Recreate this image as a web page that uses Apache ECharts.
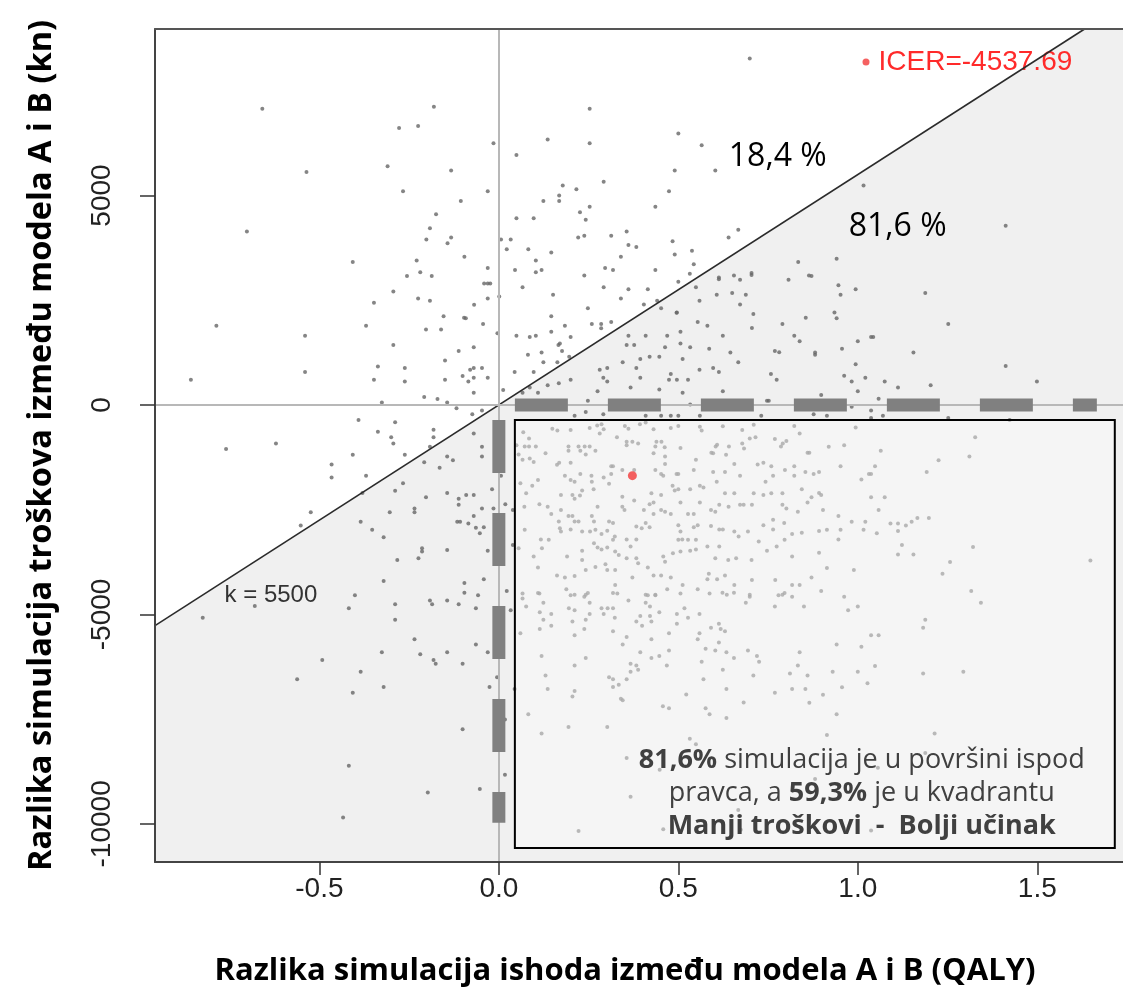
<!DOCTYPE html>
<html><head><meta charset="utf-8">
<script src="https://cdn.jsdelivr.net/npm/echarts@6/dist/echarts.min.js"></script>
<style>html,body{margin:0;padding:0;background:#fff;overflow:hidden}#main{width:1123px;height:990px}</style>
</head><body><div id="main"></div>
<script>
// ---- axes / labels ----
const xTicks = [-0.5, 0, 0.5, 1.0, 1.5];
const yTicks = [-10000, -5000, 0, 5000];
const xRange = [-0.958, 1.75];
const yRange = [-10910, 8975];
const xTitle = 'Razlika simulacija ishoda između modela A i B (QALY)';
const yTitle = 'Razlika simulacija troškova između modela A i B (kn)';
const wtpK = 5500;
const icerLabel = 'ICER=-4537.69';
const meanPoint = [0.372, -1688];
const shareAbove = '18,4 %';
const shareBelow = '81,6 %';
const boxText = '{b|81,6%} simulacija je u površini ispod\npravca, a {b|59,3%} je u kvadrantu\n{b|Manji troškovi  -  Bolji učinak}';
const hDashEnds = [0.0446, 1.666];
const vDashEnds = [-358, -9976];
const quadrantBox = [0.0446, -358, 1.716, -10573];

// ---- simulated (incremental QALY, incremental cost) pairs ----
const simTopLeft = [[-0.659,7070],[-0.536,5560],[-0.702,4140],[-0.181,7120],[-0.278,6610],[-0.225,6660],[-0.310,5700],[-0.133,5600],[-0.267,5100],[-0.106,4870],[-0.175,4550],[-0.192,4220],[-0.202,3950],[-0.133,4000],[-0.143,3860],[-0.096,3540],[-0.407,3410],[-0.229,3450],[-0.219,3170],[-0.256,3080],[-0.187,3080],[-0.294,2710],[-0.348,2440],[-0.225,2540],[-0.192,2490],[-0.069,2390],[-0.154,2120],[-0.097,2080],[-0.092,2070],[-0.041,2900]];
const simTopMid = [[0.699,8270],[0.253,7070],[0.500,6480],[0.565,6200],[-0.015,6250],[0.136,6340],[0.253,6250],[0.049,5970],[0.603,5600],[0.490,5600],[-0.031,5100],[0.292,5330],[0.474,5100],[0.178,5240],[0.168,5000],[0.168,4870],[0.216,5150],[0.124,4870],[0.253,4730],[0.436,4730],[0.226,4600],[0.242,4420],[0.049,4460],[0.097,4460],[0.006,3950],[0.033,3950],[0.022,3720],[0.082,3720],[0.221,4000],[0.238,4040],[0.146,3640],[0.103,3450],[0.103,3170],[0.119,3220],[0.045,3220],[-0.031,3270],[-0.031,2900],[-0.024,2900],[-0.031,2540],[0.001,2590],[0.066,2810],[0.151,2630],[0.146,2120],[0.238,3090],[0.248,2310],[0.292,2810],[0.296,3270],[0.318,3220],[0.313,4040],[0.356,4140],[0.361,3820],[0.383,3770],[0.340,3540],[0.361,2760],[0.340,2540],[0.415,2760],[0.436,3220],[0.404,2400],[0.441,2490],[0.452,2310],[0.484,3910],[0.490,3590],[0.538,3680],[0.543,3360],[0.532,3130],[0.500,2940],[0.549,2810],[0.496,2210],[0.559,2490],[0.640,4000],[0.667,4180],[0.613,3040],[0.613,3000],[0.655,3090],[0.672,2990],[0.704,3100],[0.704,3150],[0.607,2630],[0.650,2670],[0.688,2630],[0.672,2400],[0.709,2170],[0.807,2990],[0.834,3410],[0.864,3090]];
const simTopRight = [[1.016,5240],[1.412,4280],[0.941,3490],[0.871,3080],[0.946,2860],[0.952,2630],[0.994,2760],[1.188,2670],[0.935,2210],[0.941,2070],[0.855,2080]];
const simMidLeft = [[-0.787,1890],[-0.540,1650],[-0.858,600],[-0.540,790],[-0.370,1890],[-0.294,1430],[-0.337,920],[-0.348,600],[-0.262,880],[-0.262,560],[-0.203,1800],[-0.161,1800],[-0.044,1930],[-0.112,1290],[-0.070,1380],[-0.150,1060],[-0.080,840],[-0.070,880],[-0.047,880],[-0.101,690],[-0.085,560],[-0.070,650],[-0.150,600],[-0.070,290],[-0.208,190],[-0.171,140],[-0.144,60],[-0.326,60],[-0.118,-80],[-0.074,-220],[-0.047,-130],[-0.391,-360],[-0.289,-410],[-0.337,-640],[-0.300,-770],[-0.294,-920],[-0.182,-590],[-0.182,-770],[-0.192,-1000],[-0.760,-1050],[-0.621,-920],[-0.407,-1190],[-0.262,-1190],[-0.466,-1420],[-0.466,-1730],[-0.370,-1690],[-0.208,-1370],[-0.165,-1500],[-0.144,-1230],[-0.128,-1320],[-0.070,-680],[-0.047,-1000],[-0.047,-1230],[-0.380,-2100],[-0.267,-1870],[-0.289,-2050],[-0.524,-2560],[-0.552,-2880],[-0.385,-2790],[-0.353,-2980],[-0.321,-3160],[-0.304,-2560],[-0.235,-2470],[-0.235,-2560],[-0.203,-2200],[-0.144,-2100],[-0.112,-2240],[-0.112,-2380],[-0.091,-2150],[-0.070,-2150],[-0.047,-2470],[-0.070,-2650],[-0.116,-2790],[-0.108,-2790],[-0.085,-2830],[-0.064,-2930],[-0.053,-3060],[-0.214,-3420],[-0.214,-3500],[-0.224,-3660],[-0.144,-3460],[-0.283,-3700],[-0.321,-4200],[-0.401,-4540],[-0.096,-4250],[-0.096,-4480],[-0.058,-4540]];
const simCentre = [[-0.031,650],[-0.042,-2920],[-0.031,-3480],[-0.042,-4160],[-0.019,-2010],[0.012,360],[-0.004,1710],[0.049,1650],[0.086,1620],[0.103,1650],[0.146,1750],[0.184,1890],[0.200,1620],[0.259,1930],[0.285,1930],[0.285,1830],[0.313,1980],[0.495,2200],[0.554,1980],[0.581,1890],[0.624,1650],[0.705,1840],[0.790,1930],[0.823,1650],[0.361,1650],[0.409,1650],[0.469,1650],[0.506,1750],[0.356,1430],[0.377,1430],[0.463,1380],[0.506,1470],[0.533,1380],[0.586,1340],[0.645,1250],[0.769,1290],[0.781,1260],[0.166,1430],[0.176,1290],[0.081,1200],[0.119,1250],[0.124,1020],[0.163,1020],[0.044,790],[0.097,790],[0.196,1150],[0.200,600],[0.167,520],[0.136,470],[0.086,420],[0.109,290],[0.066,290],[0.345,1020],[0.394,1100],[0.420,1150],[0.447,1150],[0.512,1100],[0.667,1020],[0.281,840],[0.302,880],[0.291,650],[0.302,560],[0.383,880],[0.394,650],[0.479,740],[0.474,600],[0.496,600],[0.527,600],[0.559,840],[0.597,880],[0.613,790],[0.758,740],[0.774,600],[0.275,330],[0.367,420],[0.447,370],[0.512,290],[0.624,330],[0.747,100],[0.752,100],[0.248,100],[0.334,60],[0.533,10],[0.170,1470],[0.018,-2370],[0.006,-1690],[-0.015,-2470],[0.039,-2510],[0.039,-3340],[0.211,-260],[0.242,-170],[0.291,-220],[0.409,-260],[0.452,-260],[0.479,-260],[0.500,-260],[0.560,-260],[0.731,-260]];
const simCentreBox = [[0.068,-650],[0.084,-800],[0.149,-570],[0.163,-610],[0.200,-600],[0.253,-550],[0.274,-490],[0.286,-460],[0.292,-580],[0.281,-680],[0.329,-770],[0.351,-500],[0.361,-570],[0.393,-460],[0.409,-420],[0.431,-580],[0.479,-550],[0.500,-500],[0.560,-520],[0.565,-610],[0.624,-510],[0.678,-600],[0.710,-470],[0.715,-770],[0.769,-810],[0.823,-500],[0.838,-680],[0.356,-880],[0.372,-880],[0.388,-920],[0.356,-960],[0.439,-880],[0.453,-880],[0.462,-1010],[0.506,-1030],[0.592,-1140],[0.604,-990],[0.608,-950],[0.641,-990],[0.678,-920],[0.683,-1040],[0.699,-800],[0.791,-920],[0.801,-860],[0.786,-990],[0.860,-1140],[0.049,-960],[0.072,-990],[0.084,-990],[0.103,-990],[0.055,-1180],[0.066,-1310],[0.086,-1280],[0.097,-1360],[0.130,-1150],[0.162,-1430],[0.168,-1380],[0.194,-990],[0.194,-1090],[0.200,-1380],[0.222,-990],[0.227,-1090],[0.239,-990],[0.253,-990],[0.242,-1180],[0.269,-1090],[0.313,-1460],[0.436,-990],[0.431,-1150],[0.463,-1230],[0.463,-1410],[0.500,-1650],[0.549,-1310],[0.597,-1150],[0.633,-1190],[0.656,-1410],[0.721,-1420],[0.737,-1380],[0.759,-1460],[0.797,-1550],[0.823,-1460],[0.060,-1870],[0.093,-1930],[0.109,-1790],[0.184,-1690],[0.200,-1790],[0.211,-1830],[0.227,-1650],[0.258,-1690],[0.259,-1830],[0.292,-1730],[0.313,-1650],[0.318,-1460],[0.344,-1550],[0.377,-1550],[0.436,-1550],[0.452,-1650],[0.458,-1690],[0.495,-1650],[0.543,-1550],[0.597,-1600],[0.607,-1830],[0.630,-1600],[0.672,-1690],[0.743,-1830],[0.764,-1690],[0.823,-1690],[0.854,-1600],[0.484,-1930],[0.490,-2040],[0.500,-2010],[0.533,-2010],[0.560,-1930],[0.570,-1970],[0.630,-2110],[0.656,-2110],[0.710,-2110],[0.682,-2380],[0.737,-2150],[0.759,-2110],[0.790,-2110],[0.844,-2010],[0.076,-2110],[0.113,-2370],[0.136,-2430],[0.173,-2150],[0.205,-2150],[0.232,-2040],[0.226,-2160],[0.211,-2240],[0.264,-2010],[0.307,-1880],[0.344,-2190],[0.377,-2280],[0.425,-2110],[0.431,-2330],[0.452,-2150],[0.071,-2430],[0.146,-2600],[0.173,-2510],[0.194,-2650],[0.205,-2650],[0.211,-2780],[0.167,-2780],[0.170,-2940],[0.222,-2780],[0.259,-2650],[0.265,-2780],[0.269,-2980],[0.275,-2430],[0.307,-2780],[0.318,-2820],[0.350,-2510],[0.344,-2430],[0.404,-2510],[0.420,-2370],[0.431,-2600],[0.452,-2510],[0.463,-2550],[0.479,-2600],[0.506,-2330],[0.527,-2600],[0.543,-2600],[0.560,-2330],[0.500,-2870],[0.543,-2920],[0.554,-2870],[0.591,-2510],[0.603,-2550],[0.614,-2380],[0.640,-2430],[0.672,-2380],[0.705,-2380],[0.737,-2870],[0.764,-2740],[0.764,-2970],[0.790,-2380],[0.801,-2470],[0.833,-2550],[0.844,-3050],[0.795,-2820],[0.072,-2980],[0.117,-3210],[0.139,-3220],[0.173,-3020],[0.200,-2970],[0.232,-3020],[0.254,-3020],[0.286,-3080],[0.302,-3000],[0.323,-3140],[0.318,-3220],[0.356,-3210],[0.383,-3210],[0.398,-2940],[0.409,-2820],[0.420,-2920],[0.383,-2900],[0.506,-3020],[0.511,-3210],[0.527,-3220],[0.549,-3220],[0.500,-3220],[0.591,-2890],[0.614,-2970],[0.624,-2970],[0.656,-3020],[0.668,-3140],[0.694,-3020],[0.724,-3260],[0.796,-3220],[0.817,-3080],[0.055,-3420],[0.097,-3620],[0.120,-3420],[0.190,-3620],[0.232,-3480],[0.232,-3700],[0.265,-3300],[0.275,-3400],[0.286,-3450],[0.302,-3400],[0.324,-3500],[0.334,-3580],[0.356,-3660],[0.383,-3660],[0.388,-3780],[0.367,-3380],[0.458,-3620],[0.463,-3740],[0.485,-3540],[0.506,-3500],[0.533,-3480],[0.549,-3450],[0.581,-3380],[0.603,-3660],[0.614,-3380],[0.639,-3700],[0.661,-3660],[0.704,-3700],[0.747,-3480],[0.774,-3380],[0.817,-3620],[0.109,-3880],[0.162,-4070],[0.184,-4120],[0.211,-4080],[0.242,-3940],[0.269,-3870],[0.297,-3800],[0.302,-3940],[0.324,-3940],[0.372,-4120],[0.415,-3880],[0.431,-4070],[0.452,-4070],[0.479,-4120],[0.512,-4300],[0.581,-4160],[0.585,-4030],[0.608,-4160],[0.630,-4070],[0.656,-4300],[0.705,-4180],[0.770,-4180],[0.790,-4530],[0.817,-4300],[0.066,-4500],[0.113,-4500],[0.188,-4400],[0.211,-4530],[0.242,-4530],[0.324,-4300],[0.330,-4500],[0.409,-4530],[0.436,-4530],[0.469,-4400],[0.506,-4500],[0.554,-4400],[0.587,-4500],[0.635,-4530],[0.699,-4530],[0.838,-4300]];
const simMidRight = [[1.252,1930],[0.838,1520],[1.000,1520],[1.037,1620],[1.043,1620],[0.956,1340],[0.881,1200],[0.881,1250],[1.155,1250],[0.994,970],[1.412,930],[0.962,700],[0.983,560],[1.021,650],[1.075,560],[1.112,420],[1.203,470],[1.499,560],[1.000,330],[0.898,240],[1.058,150],[0.983,-40],[1.037,-130],[0.877,-220],[0.914,-260],[1.037,-310],[1.070,-260],[1.252,-310],[1.423,-360],[0.994,-540],[1.327,-770],[0.962,-960],[0.919,-1000],[0.865,-1140],[1.064,-1090],[1.311,-1230],[1.225,-1320],[0.952,-1460],[1.048,-1460],[0.877,-1650],[0.892,-1600],[1.031,-1650],[1.037,-1650],[1.192,-1600],[1.010,-1780],[0.892,-2100],[0.871,-2200],[0.898,-2150],[0.860,-2330],[1.037,-2200],[1.075,-2200],[0.903,-2510],[1.058,-2510],[0.946,-2650],[0.983,-2790],[1.021,-2790],[1.091,-2830],[1.112,-2830],[1.134,-2880],[1.150,-2790],[1.166,-2700],[1.198,-2700],[0.892,-3010],[0.914,-2980],[0.952,-2980],[1.016,-2980],[1.053,-3060],[1.112,-3010],[0.946,-3210],[1.123,-3340],[1.321,-3390],[1.648,-3710],[0.892,-3530],[1.112,-3570],[1.155,-3570],[1.257,-3750],[0.914,-3890],[0.989,-3940],[0.871,-4120],[1.236,-4030],[0.898,-4440],[0.962,-4580],[1.316,-4440]];
const simBottomLeft = [[-0.825,-5080],[-0.680,-4800],[-0.418,-4850],[-0.289,-4760],[-0.289,-5130],[-0.192,-4670],[-0.186,-4760],[-0.144,-4670],[-0.112,-4760],[-0.064,-4850],[-0.235,-5590],[-0.326,-5900],[-0.219,-5950],[-0.182,-6090],[-0.176,-6180],[-0.144,-5900],[-0.101,-6180],[-0.064,-5720],[-0.492,-6090],[-0.562,-6550],[-0.385,-6370],[-0.407,-6870],[-0.321,-6730],[-0.101,-7740],[-0.418,-8610],[-0.198,-9250],[-0.053,-9170],[-0.434,-9850]];
const simBottomMid = [[0.022,-4440],[0.066,-4620],[0.109,-4490],[0.076,-4810],[0.124,-4720],[0.200,-4540],[0.248,-4490],[0.238,-4580],[0.253,-4720],[0.318,-4490],[0.361,-4670],[0.415,-4540],[0.436,-4540],[0.409,-4720],[0.421,-4810],[0.195,-4850],[0.211,-4900],[0.114,-4950],[0.146,-4990],[0.205,-5170],[0.124,-5130],[0.146,-5270],[0.114,-5350],[0.060,-5450],[0.242,-5130],[0.238,-5350],[0.253,-4990],[0.286,-4850],[0.303,-4850],[0.318,-4850],[0.292,-4990],[0.323,-5080],[0.383,-5170],[0.399,-5270],[0.394,-5040],[0.421,-5040],[0.425,-5170],[0.447,-4950],[0.318,-5400],[0.356,-5540],[0.345,-5720],[0.211,-5500],[0.394,-5900],[0.425,-5590],[0.425,-6040],[0.447,-5990],[0.474,-5860],[0.474,-5450],[0.468,-6220],[0.496,-4990],[0.496,-5220],[0.517,-4850],[0.527,-5080],[0.559,-4990],[0.559,-5450],[0.554,-5590],[0.591,-5320],[0.613,-5220],[0.618,-5350],[0.630,-5400],[0.613,-5670],[0.576,-5820],[0.603,-5860],[0.634,-5900],[0.655,-6040],[0.694,-5860],[0.719,-5990],[0.725,-6130],[0.565,-6130],[0.624,-6320],[0.570,-6550],[0.634,-6780],[0.709,-6460],[0.522,-6910],[0.682,-7100],[0.576,-7240],[0.587,-7380],[0.634,-7470],[0.623,-4480],[0.655,-4480],[0.699,-4580],[0.688,-4720],[0.769,-4810],[0.779,-4540],[0.796,-4490],[0.817,-4580],[0.833,-6220],[0.811,-6410],[0.817,-6780],[0.769,-6870],[0.119,-5990],[0.211,-6220],[0.242,-6040],[0.130,-6460],[0.136,-6780],[0.211,-6830],[0.205,-6960],[0.307,-6500],[0.318,-6550],[0.334,-6680],[0.318,-6730],[0.340,-7010],[0.345,-7050],[0.356,-6550],[0.367,-6370],[0.367,-6180],[0.383,-6220],[0.388,-6320],[0.082,-7380],[0.119,-7840],[0.194,-7690],[0.302,-7690],[0.457,-7190],[0.474,-7240],[0.532,-7970],[0.356,-8430],[0.367,-9350],[0.448,-8710],[0.222,-10170],[0.458,-10130],[0.667,-9670],[0.044,-6780],[0.017,-7510],[0.017,-8830],[-0.005,-6500],[-0.026,-6730],[-0.031,-5900],[0.033,-4900],[0.549,-8100],[0.674,-10140]];
const simBottomRight = [[1.343,-4720],[0.850,-4810],[0.973,-4900],[1.000,-4810],[1.188,-5130],[1.182,-5320],[1.037,-5500],[1.058,-5500],[0.941,-5720],[1.010,-5770],[0.838,-5900],[1.048,-6230],[0.930,-6370],[1.000,-6370],[1.182,-6410],[1.294,-6370],[0.860,-6460],[1.027,-6640],[0.956,-6740],[0.854,-6780],[0.903,-6920],[0.865,-7110],[0.941,-7380],[0.914,-7880],[1.214,-7840],[1.188,-8310],[1.056,-8660],[0.881,-8930],[1.037,-10160]];

const simPoints = [].concat(simTopLeft, simTopMid, simTopRight, simMidLeft, simCentre, simCentreBox, simMidRight, simBottomLeft, simBottomMid, simBottomRight);

// derived geometry of the willingness-to-pay line
const kLine = [[xRange[0], wtpK * xRange[0]], [yRange[1] / wtpK, yRange[1]]];
const shadeArea = [kLine[0], kLine[1], [xRange[1], yRange[1]]];

const chart = echarts.init(document.getElementById('main'), null, { renderer: 'canvas' });
const tickFont = { fontFamily: 'Liberation Sans', fontSize: 28, color: '#222' };
const titleFont = { fontFamily: 'Open Sans', fontWeight: 'bold', fontSize: 31, color: '#000' };
const hiddenMark = { symbol: 'circle', symbolSize: 1, itemStyle: { color: 'rgba(0,0,0,0)' }, silent: true };

chart.setOption({
  animation: false,
  backgroundColor: '#fff',
  grid: { left: 155, top: 29, width: 972, height: 833, containLabel: false, outerBoundsMode: 'none', show: false },
  legend: {
    data: [{ name: icerLabel, icon: 'circle' }],
    left: 857.5, top: 43, itemWidth: 7, itemHeight: 7, padding: 5,
    textStyle: { color: '#ff2a2a', fontFamily: 'Liberation Sans', fontSize: 28, padding: [0, 0, 0, 4] },
    selectedMode: false
  },
  xAxis: [{
    type: 'value', min: xRange[0], max: xRange[1], position: 'bottom', z: 10,
    name: xTitle, nameLocation: 'middle', nameGap: 94,
    nameTextStyle: Object.assign({}, titleFont, { padding: [0, 32, 0, 0] }),
    axisLine: { show: true, onZero: false, lineStyle: { color: '#444', width: 2 } },
    axisTick: { show: true, length: 13, customValues: xTicks, lineStyle: { color: '#333', width: 1.5 } },
    axisLabel: Object.assign({ show: true, margin: 13, customValues: xTicks, formatter: v => v.toFixed(1) }, tickFont),
    splitLine: { show: false }
  }, {
    type: 'value', min: xRange[0], max: xRange[1], position: 'top', z: 10,
    axisLine: { show: true, onZero: false, lineStyle: { color: '#555', width: 2 } },
    axisTick: { show: false }, axisLabel: { show: false }, splitLine: { show: false }
  }],
  yAxis: {
    type: 'value', min: yRange[0], max: yRange[1], z: 10,
    name: yTitle, nameLocation: 'middle', nameGap: 97, nameRotate: 90,
    nameTextStyle: Object.assign({}, titleFont, { fontSize: 32.5 }),
    axisLine: { show: true, onZero: false, lineStyle: { color: '#444', width: 2 } },
    axisTick: { show: true, length: 15, customValues: yTicks, lineStyle: { color: '#333', width: 1.5 } },
    axisLabel: Object.assign({ show: true, rotate: 90, margin: 39, customValues: yTicks, formatter: v => String(v) }, tickFont),
    splitLine: { show: false }
  },
  series: [
    { // region below the k line
      type: 'line', data: shadeArea, symbol: 'none', silent: true, z: 1,
      lineStyle: { width: 0, opacity: 0 },
      areaStyle: { color: '#f0f0f0', opacity: 1, origin: 'start' }
    },
    { // zero reference lines
      type: 'line', data: [], z: 2, silent: true,
      markLine: {
        silent: true, symbol: ['none', 'none'], label: { show: false },
        lineStyle: { color: '#b8b8b8', width: 2, type: 'solid' },
        data: [{ xAxis: 0 }, { yAxis: 0 }]
      }
    },
    {
      name: 'simulacije', type: 'scatter', data: simPoints, z: 3, silent: true,
      symbol: 'circle', symbolSize: 4, itemStyle: { color: '#666666' }
    },
    { // willingness-to-pay line
      type: 'line', data: kLine, symbol: 'none', z: 4, silent: true,
      lineStyle: { color: '#2b2b2b', width: 1.6 },
      markPoint: Object.assign({}, hiddenMark, {
        data: [
          { coord: [-0.635, -4535], label: { show: true, position: 'inside', formatter: 'k = ' + wtpK, fontFamily: 'Liberation Sans', fontSize: 24, color: '#333' } },
          { coord: [0.777, 5920], label: { show: true, position: 'inside', formatter: shareAbove, fontFamily: 'Open Sans', fontSize: 32, color: '#000' } },
          { coord: [1.111, 4250], label: { show: true, position: 'inside', formatter: shareBelow, fontFamily: 'Open Sans', fontSize: 32, color: '#000' } }
        ]
      })
    },
    { // highlighted box of the south-east quadrant
      type: 'custom', z: 5, silent: true, clip: false,
      data: [quadrantBox],
      encode: { x: [0, 2], y: [1, 3] },
      renderItem: (params, api) => {
        const p0 = api.coord([api.value(0), api.value(1)]);
        const p1 = api.coord([api.value(2), api.value(3)]);
        return {
          type: 'rect',
          shape: { x: p0[0], y: p0[1], width: p1[0] - p0[0], height: p1[1] - p0[1] },
          style: { fill: 'rgba(250,250,250,0.45)', stroke: '#000', lineWidth: 2 }
        };
      }
    },
    { // dashed quadrant edges
      type: 'line', data: [[hDashEnds[0], 0], [hDashEnds[1], 0]], symbol: 'none', z: 6, silent: true,
      lineStyle: { color: '#808080', width: 13, type: [53, 40], cap: 'butt' }
    },
    {
      type: 'line', data: [[0, vDashEnds[0]], [0, vDashEnds[1]]], symbol: 'none', z: 6, silent: true,
      lineStyle: { color: '#808080', width: 13, type: [53, 40], cap: 'butt' },
      markPoint: Object.assign({}, hiddenMark, {
        data: [{
          coord: [1.011, -9260],
          label: {
            show: true, position: 'inside', formatter: boxText, align: 'center',
            fontFamily: 'Open Sans', fontSize: 27, lineHeight: 33, color: '#404040',
            rich: { b: { fontFamily: 'Open Sans', fontWeight: 'bold', fontSize: 27, lineHeight: 33, color: '#404040' } }
          }
        }]
      })
    },
    {
      name: icerLabel, type: 'scatter', data: [meanPoint], z: 7, silent: true,
      symbol: 'circle', symbolSize: 9, itemStyle: { color: '#f23a3a' }
    }
  ]
});
</script></body></html>
